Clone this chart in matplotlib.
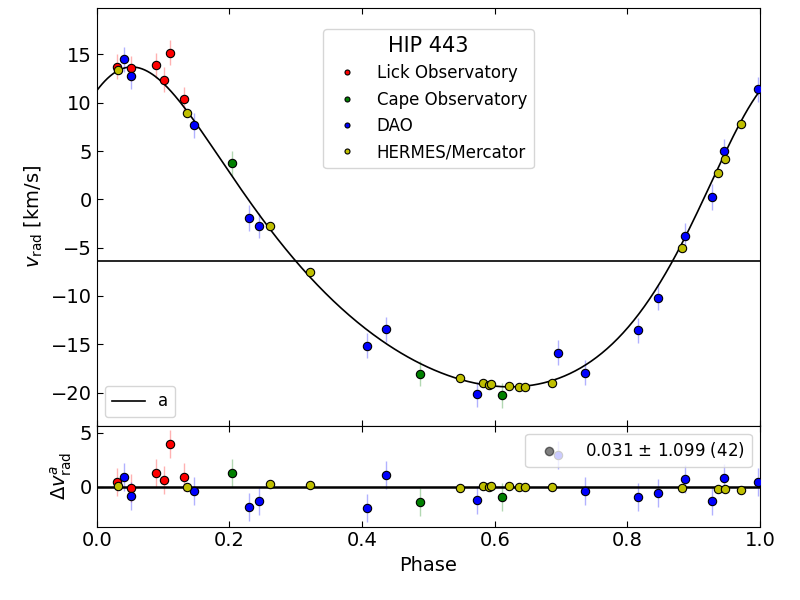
import numpy as np
import matplotlib
matplotlib.use("Agg")
import matplotlib.pyplot as plt

# radial velocities
lick_phase = [0.031, 0.052, 0.089, 0.102, 0.110, 0.131]
lick_rv = [13.71, 13.55, 13.89, 12.37, 15.16, 10.37]
lick_res = [0.41, -0.12, 1.27, 0.62, 3.98, 0.93]
lick_err = [1.3] * 6

cape_phase = [0.204, 0.488, 0.611]
cape_rv = [3.75, -18.05, -20.27]
cape_res = [1.30, -1.42, -0.92]
cape_err = [1.3] * 3

dao_phase = [0.041, 0.051, 0.146, 0.230, 0.244, 0.408, 0.436, 0.573,
             0.695, 0.736, 0.816, 0.846, 0.887, 0.928, 0.945, 0.997]
dao_rv = [14.48, 12.75, 7.65, -1.93, -2.73, -15.14, -13.44, -20.17,
          -15.86, -17.96, -13.55, -10.2, -3.76, 0.24, 4.96, 11.38]
dao_res = [0.93, -0.89, -0.43, -1.88, -1.35, -2.0, 1.08, -1.26,
           2.9, -0.40, -0.98, -0.58, 0.74, -1.32, 0.77, 0.41]
dao_err = [1.3] * 16

hermes_phase = [0.032, 0.136, 0.261, 0.321, 0.548, 0.582, 0.591, 0.594,
                0.622, 0.637, 0.646, 0.687, 0.883, 0.937, 0.947, 0.972]
hermes_rv = [13.37, 8.96, -2.73, -7.52, -18.51, -18.97, -19.17, -19.13,
             -19.34, -19.41, -19.41, -19.0, -5.07, 2.72, 4.2, 7.76]
hermes_res = [0.07, -0.03, 0.22, 0.13, -0.12, 0.06, -0.03, 0.03,
              0.06, 0.0, -0.03, -0.03, -0.15, -0.24, -0.18, -0.31]
hermes_err = [0.1] * 16

# orbit solution "a"
gamma = -6.4
K = 16.55
ecc = 0.24
omega = np.radians(-26.7)
t_peri = 0.008


def kepler_rv(phase):
    M = 2 * np.pi * (phase - t_peri)
    E = M.copy()
    for _ in range(50):
        E = E - (E - ecc * np.sin(E) - M) / (1 - ecc * np.cos(E))
    nu = 2 * np.arctan2(np.sqrt(1 + ecc) * np.sin(E / 2), np.sqrt(1 - ecc) * np.cos(E / 2))
    return gamma + K * (np.cos(nu + omega) + ecc * np.cos(omega))


datasets = [
    ("Lick Observatory", "r", lick_phase, lick_rv, lick_res, lick_err),
    ("Cape Observatory", "g", cape_phase, cape_rv, cape_res, cape_err),
    ("DAO", "b", dao_phase, dao_rv, dao_res, dao_err),
    ("HERMES/Mercator", "y", hermes_phase, hermes_rv, hermes_res, hermes_err),
]

fig = plt.figure(figsize=(8, 6), dpi=100)
ax = fig.add_axes([0.121, 1 - 425.5 / 600, 0.829, 417.5 / 600])
axr = fig.add_axes([0.121, 1 - 526.5 / 600, 0.829, 101 / 600], sharex=ax)

handles = []
for name, col, ph, rv, res, err in datasets:
    ax.errorbar(ph, rv, yerr=err, fmt="none", ecolor=col, alpha=0.3, lw=1, zorder=2)
    p, = ax.plot(ph, rv, "o", color=col, mec="k", mew=0.8, ms=6, label=name, zorder=4)
    handles.append(p)
    axr.errorbar(ph, res, yerr=err, fmt="none", ecolor=col, alpha=0.3, lw=1, zorder=2)
    axr.plot(ph, res, "o", color=col, mec="k", mew=0.8, ms=6, zorder=4)

xx = np.linspace(0, 1, 500)
line_a, = ax.plot(xx, kepler_rv(xx), "k-", lw=1.2, label="a", zorder=3)
ax.axhline(gamma, color="k", lw=1.2, zorder=3)
axr.axhline(0, color="k", lw=1.8, zorder=3)

leg1 = ax.legend(handles=handles, loc="upper center", bbox_to_anchor=(0.5, 0.969),
                 title="HIP 443", fontsize=12, title_fontsize=15, markerscale=0.6,
                 handletextpad=0.8)
ax.add_artist(leg1)
ax.legend(handles=[line_a], loc="lower left", fontsize=12)

h, = axr.plot([], [], "o", color="k", alpha=0.5, ms=6)
axr.legend([h], ["0.031 $\\pm$ 1.099 (42)"], loc="upper right", fontsize=12,
           handletextpad=1.2)

ax.set_xlim(0, 1)
ax.set_ylim(-23.4, 19.8)
axr.set_ylim(-3.7, 5.67)
ax.set_yticks([-20, -15, -10, -5, 0, 5, 10, 15])
axr.set_yticks([0, 5])

for a in (ax, axr):
    a.tick_params(direction="in", top=True, right=False, labelsize=14, length=4)
ax.tick_params(labelbottom=False)

ax.set_ylabel(r"$v_\mathrm{rad}$ [km/s]", fontsize=14)
axr.set_ylabel(r"$\Delta v^a_\mathrm{rad}$", fontsize=14)
axr.set_xlabel("Phase", fontsize=14)

fig.savefig("out.png", dpi=100)
